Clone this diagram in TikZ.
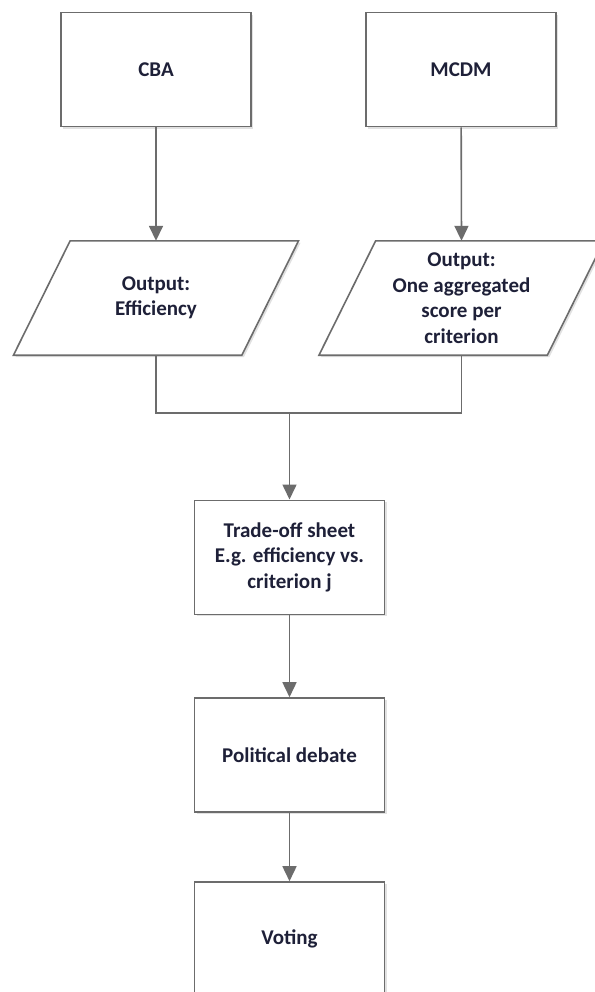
\documentclass[tikz,border=0pt]{standalone}
\usepackage{fontspec}
\setmainfont{Carlito}
\usetikzlibrary{arrows.meta,shadows,calc}

\definecolor{linegray}{RGB}{108,108,108}
\definecolor{textcol}{RGB}{30,32,56}
\definecolor{shadecol}{RGB}{225,225,225}

\tikzset{
  label text/.style={font=\fontsize{21}{25.5}\selectfont\bfseries, text=textcol, align=center},
  procbox/.style={label text, draw=linegray, line width=1.6pt, fill=white,
    minimum width=190pt, minimum height=114pt, inner sep=0pt,
    drop shadow={shadow xshift=2pt, shadow yshift=-2pt, fill=shadecol, opacity=1}},
  databox/.style={label text, minimum width=228pt, minimum height=114pt, inner sep=0pt},
  line/.style={draw=linegray, line width=1.6pt},
  flow/.style={line, -{Triangle[width=14pt,length=15pt]}},
}

% slanted outline (parallelogram) around a data node
\newcommand{\slantframe}[1]{%
  \fill[shadecol] ($(#1.north west)+(30.35,2)$) -- ($(#1.north east)+(30.35,2)$)
    -- ($(#1.south east)+(-26.35,2)$) -- ($(#1.south west)+(-26.35,2)$) -- cycle;
  \filldraw[line, fill=white] ($(#1.north west)+(28.35,0)$) -- ($(#1.north east)+(28.35,0)$)
    -- ($(#1.south east)+(-28.35,0)$) -- ($(#1.south west)+(-28.35,0)$) -- cycle;
}

\begin{document}
\begin{tikzpicture}[x=1pt,y=-1pt]
  \useasboundingbox[fill=white] (0,0) rectangle (594,992);

  % methods
  \node[procbox] (cba)  at (156,69.7) {CBA};
  \node[procbox] (mcdm) at (461,69.7) {MCDM};

  % outputs
  \node[databox] (effo)  at (156,298) {};
  \node[databox] (score) at (461.5,298) {};
  \slantframe{effo}
  \slantframe{score}
  \node[label text] at (effo)  {Output:\\Efficiency};
  \node[label text] at (score) {Output:\\One aggregated\\score per\\criterion};

  % downstream steps
  \node[procbox] (trade)  at (289.5,557.3) {Trade-off sheet\\E.g. efficiency vs.\\criterion j};
  \node[procbox] (debate) at (289.5,755)   {Political debate};
  \node[procbox] (vote)   at (289.5,939)   {Voting};

  % connectors
  \draw[flow] (cba) -- (effo);
  \draw[flow] (mcdm) -- (score.north);
  \coordinate (bus) at (289.5,412.7);
  \draw[line] (effo.south) |- (bus) -| (score.south);
  \draw[flow] (bus) -- (trade);
  \draw[flow] (trade) -- (debate);
  \draw[flow] (debate) -- (vote);
\end{tikzpicture}
\end{document}
